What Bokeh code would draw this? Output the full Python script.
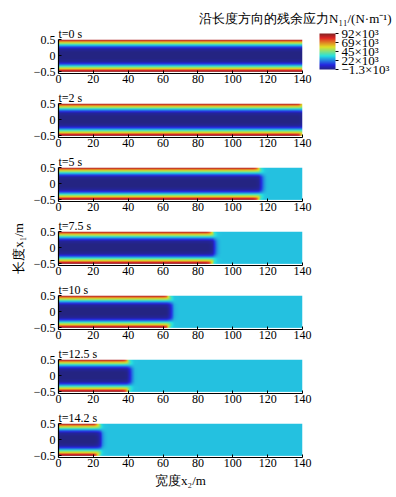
import numpy as np
from bokeh.plotting import figure
from bokeh.layouts import column
from bokeh.models import LinearColorMapper, ColorBar, Title, FixedTicker, AllLabels
from bokeh.embed import file_html
from bokeh.resources import INLINE

# ---------------- data ----------------
times = ["0", "2", "5", "7.5", "10", "12.5", "14.2"]          # s
fronts = [160.0, 142.0, 117.0, 90.0, 65.0, 41.5, 24.5]        # m, release front position
profile_x1 = [0.0, 0.10, 0.20, 0.25, 0.30, 0.35, 0.40, 0.45, 0.50]   # m
profile_n = [-1.3e3, -1.0e3, 2e3, 12e3, 26e3, 42e3, 57e3, 76e3, 92e3]  # N/m
relaxed_n = 30e3
cbar_ticks = [-1.3e3, 22e3, 45e3, 69e3, 92e3]
cbar_labels = ["\u22121.3\u00d710\u00b3", "22\u00d710\u00b3", "45\u00d710\u00b3", "69\u00d710\u00b3", "92\u00d710\u00b3"]
x_ticks = [0, 20, 40, 60, 80, 100, 120, 140]
y_ticks = [-0.5, 0, 0.5]
title_text = "沿长度方向的残余应力N\u2081\u2081/(N\u00b7m\u207b\u00b9)"
ylabel = "长度x\u2081/m"
xlabel = "宽度x\u2082/m"

FONT = "Liberation Serif"

# ---------------- palette (soft jet) ----------------
f = np.linspace(0, 1, 256)
r = np.clip(1.5 - np.abs(4 * f - 3), 0, 1)
g = np.clip(1.5 - np.abs(4 * f - 2), 0, 1)
b = np.clip(1.5 - np.abs(4 * f - 1), 0, 1)
palette = []
for rr, gg, bb in zip(r, g, b):
    c = [int(round(255 * (0.74 * v + 0.14))) for v in (rr, gg, bb)]
    palette.append("#%02x%02x%02x" % tuple(c))
mapper = LinearColorMapper(palette=palette, low=cbar_ticks[0], high=cbar_ticks[-1])

# ---------------- field construction ----------------
xs = np.linspace(0, 140, 281)
ys = np.linspace(-0.5, 0.5, 105)
X, Y = np.meshgrid(xs, ys)
prof = np.interp(np.abs(Y), profile_x1, profile_n)


def field(front):
    front_row = front - 2.5 * (np.abs(Y) / 0.5) ** 4
    w = 1.0 / (1.0 + np.exp((X - front_row) / 0.8))
    return relaxed_n + (prof - relaxed_n) * w


FRAME_W = 244
FRAME_H = 34
LEFT = 58
Y0, Y1 = -0.55, 0.5


def t_title(i):
    return Title(text="t=%s s" % times[i], text_font=FONT, text_font_size="12px",
                 text_font_style="normal", text_color="black",
                 align="left", offset=0, standoff=-2)


def make_panel(i):
    first = i == 0
    last = i == len(times) - 1
    top = 39 if first else 14
    bottom = 32 if last else 16
    right = 90 if first else 12
    p = figure(frame_width=FRAME_W, frame_height=FRAME_H,
               x_range=(0, 140), y_range=(Y0, Y1),
               output_backend="svg", toolbar_location=None,
               min_border_left=LEFT, min_border_right=right,
               min_border_top=top, min_border_bottom=bottom)
    if first:
        p.title = Title(text=title_text, text_font=FONT, text_font_size="13px",
                        text_font_style="normal", text_color="black",
                        align="right", offset=-89, standoff=0)
        p.add_layout(t_title(i), "above")
    else:
        p.title = t_title(i)

    p.outline_line_color = None
    p.grid.visible = False
    p.image(image=[field(fronts[i])], x=0, y=-0.5, dw=140, dh=1, color_mapper=mapper)

    for ax in (p.xaxis[0], p.yaxis[0]):
        ax.axis_line_color = "black"
        ax.axis_line_width = 1.2
        ax.major_tick_in = 3
        ax.major_tick_out = 0
        ax.minor_tick_line_color = None
        ax.major_label_text_font = FONT
        ax.major_label_text_font_size = "12px"
        ax.major_label_text_color = "black"
        ax.axis_label_text_font = FONT
        ax.axis_label_text_font_size = "13px"
        ax.axis_label_text_font_style = "normal"
        ax.axis_label_text_color = "black"
    p.xaxis.ticker = FixedTicker(ticks=x_ticks)
    p.yaxis.ticker = FixedTicker(ticks=y_ticks)
    p.yaxis.major_label_overrides = {-0.5: "\u22120.5"}
    p.xaxis.major_label_standoff = 1
    p.yaxis.major_label_standoff = 3

    if i == 3:
        p.yaxis.axis_label = ylabel
        p.yaxis.axis_label_standoff = 5
    if last:
        p.xaxis.axis_label = xlabel
        p.xaxis.axis_label_standoff = 3

    if first:
        cb = ColorBar(color_mapper=mapper, ticker=FixedTicker(ticks=cbar_ticks),
                      major_label_overrides=dict(zip(cbar_ticks, cbar_labels)),
                      major_label_policy=AllLabels(),
                      width=16, height=36, location=(261, 4), padding=0,
                      label_standoff=3, major_tick_in=0, major_tick_out=3,
                      major_tick_line_color="black", minor_tick_line_color=None,
                      bar_line_color=None, border_line_color=None,
                      background_fill_alpha=0,
                      major_label_text_font=FONT, major_label_text_font_size="13px",
                      major_label_text_color="black")
        p.add_layout(cb)
    return p


panels = [make_panel(i) for i in range(len(times))]
layout = column(*panels, spacing=0)

open("out.html", "w").write(file_html(layout, INLINE))
